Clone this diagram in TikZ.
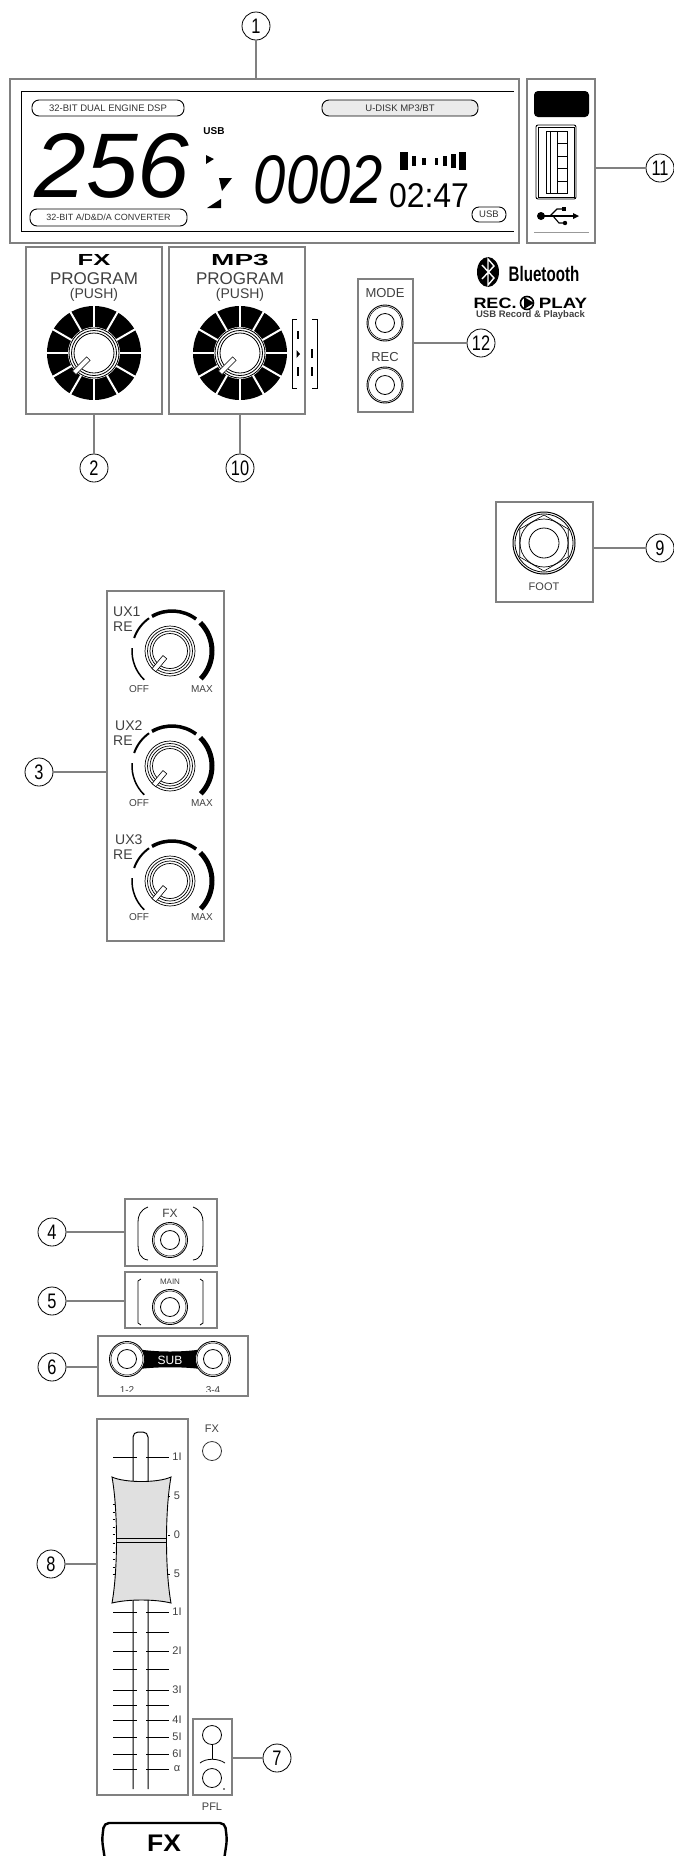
\documentclass[tikz,border=0pt]{standalone}
\usepackage{fontspec}
\setmainfont{Liberation Sans}
\usepackage{tkz-euclide}

\begin{document}
\begin{tikzpicture}[x=1pt,y=1pt,yscale=-1,
    panel/.style={draw=black!50,line width=2.6pt,inner sep=0pt},
    lead/.style={draw=black!50,line width=2pt},
    num/.style={circle,draw,line width=.8pt,minimum size=28pt,inner sep=0pt,font=\fontsize{21}{21}\selectfont},
    pill/.style={draw,line width=.9pt,rounded corners=7pt,inner sep=0pt,minimum height=16pt,text=black!80,font=\fontsize{9.5}{10}\selectfont},
    lbl/.style={inner sep=0pt,text=black!75,font=\fontsize{#1}{#1}\selectfont},
    lbl/.default=12,
    blk/.style={inner sep=0pt,text=black,font=\fontsize{#1}{#1}\selectfont\bfseries},
    tick/.style={line width=.9pt}]
    \useasboundingbox (0,0) rectangle (674,1856);
    \foreach \n/\x/\y in {1/256/26,2/94/468,3/39/772,4/52/1232,5/52/1301,6/52/1367,7/277/1758,8/51/1564,9/660/548,10/240/468,11/660/168,12/481/343}{
        \node[num] (num\n) at (\x,\y) {\scalebox{.78}[1]{\n}};
    }
    % panels
    \node[panel,minimum width=509pt,minimum height=164pt] (lcd) at (264.5,161) {};
    \node[panel,minimum width=68pt,minimum height=164pt] (usbbox) at (561,161) {};
    \node[panel,minimum width=136pt,minimum height=167pt] (fxbox) at (94,330.5) {};
    \node[panel,minimum width=136pt,minimum height=167pt] (mp3box) at (237,330.5) {};
    \node[panel,minimum width=55pt,minimum height=133pt] (modebox) at (385.5,345.5) {};
    \node[panel,minimum width=97pt,minimum height=100pt] (footbox) at (544.5,552) {};
    \node[panel,minimum width=117pt,minimum height=350pt] (uxbox) at (165.5,766) {};
    \node[panel,minimum width=92pt,minimum height=67pt] (sendbox) at (171,1232.5) {};
    \node[panel,minimum width=92pt,minimum height=56pt] (mainbox) at (171,1300) {};
    \node[panel,minimum width=150pt,minimum height=60pt] (subbox) at (173,1366) {};
    \node[panel,minimum width=91pt,minimum height=376pt] (faderbox) at (142.5,1607) {};
    \node[panel,minimum width=39pt,minimum height=76pt] (pflbox) at (212.5,1757) {};
    % leaders
    \draw[lead] (num1) -- (num1 |- lcd.north);
    \draw[lead] (num2) -- (num2 |- fxbox.south);
    \draw[lead] (num10) -- (num10 |- mp3box.south);
    \draw[lead] (num11) -- (num11 -| usbbox.east);
    \draw[lead] (num12) -- (num12 -| modebox.east);
    \draw[lead] (num9) -- (num9 -| footbox.east);
    \draw[lead] (num3) -- (num3 -| uxbox.west);
    \draw[lead] (num4) -- (num4 -| sendbox.west);
    \draw[lead] (num5) -- (num5 -| mainbox.west);
    \draw[lead] (num6) -- (num6 -| subbox.west);
    \draw[lead] (num8) -- (num8 -| faderbox.west);
    \draw[lead] (num7) -- (num7 -| pflbox.east);
    % display
    \draw[line width=1pt] (514,91) -- (21.5,91) -- (21.5,231) -- (514,231);
    \node[pill,minimum width=152pt] (dsp) at (108,108) {32-BIT DUAL ENGINE DSP};
    \node[pill,minimum width=156pt,fill=black!8] (udisk) at (400,108) {U-DISK MP3/BT};
    \node[pill,minimum width=157pt,minimum height=17pt,font=\fontsize{9}{10}\selectfont] (conv) at (108.5,217.5) {32-BIT A/D\&D/A CONVERTER};
    \node[pill,minimum width=34pt,minimum height=15pt] (usbpill) at (489,214.5) {USB};
    \node[blk=10] (usbtop) at (214,131) {USB};
    \node[inner sep=0pt] (big) at (112,166) {\resizebox{155pt}{64pt}{\itshape 256}};
    \node[inner sep=0pt] (count) at (318.5,180) {\resizebox{129pt}{48pt}{\itshape 0002}};
    \node[inner sep=0pt] (clock) at (429,195.5) {\resizebox{80pt}{24pt}{02:47}};
    \fill (206,155) -- (214,159) -- (206,164) -- cycle;
    \fill (219,178) -- (232,178) -- (222,191) -- cycle;
    \fill (221,199) -- (221,208) -- (207,208) -- cycle;
    \foreach \a/\b/\h in {400/408/9,412/416/5,422/426/3.5,435/438/3.5,443/447/5,451/456/7,459/466/9}{
        \fill (\a,161-\h) rectangle (\b,161+\h);
    }
    % usb port
    \fill[rounded corners=4pt] (534,117) -- (534,91) -- (589,91) -- (589,117) -- cycle;
    \draw[line width=.9pt,rounded corners=2pt] (536,125) rectangle (576,199);
    \draw[line width=.6pt] (538,127) rectangle (574,197);
    \draw[line width=.9pt] (546,131) rectangle (567,193);
    \draw[line width=.7pt] (550,131) -- (550,193) (557,131) -- (557,193);
    \foreach \y in {143,156,168,181}{
        \draw[line width=.7pt] (557,\y) -- (567,\y);
    }
    \fill (541,216) circle (4);
    \draw[line width=1.1pt] (541,216) -- (574,216);
    \fill (573,213) -- (579,216) -- (573,219) -- cycle;
    \draw[line width=1.1pt] (550,216) -- (557,209) -- (562,209);
    \fill (562,206.5) rectangle (566,211);
    \draw[line width=1.1pt] (553,216) -- (559,223) -- (564,223);
    \fill (565,223) circle (2.2);
    \draw[black!40,line width=1pt] (534,232) -- (589,232);
    % program knobs
    \foreach \nm/\x in {fxknob/94,mpknob/240}{
        \tkzDefPoint(\x,353){\nm}
        \fill (\nm) circle (47);
        \fill[white] (\nm) circle (26);
        \foreach \a in {0,30,...,330}{
            \draw[white,line width=2pt] (\nm) ++(\a:25) -- ++(\a:23);
        }
        \foreach \r in {25,22.5,20}{
            \draw[line width=.8pt] (\nm) circle (\r);
        }
        \draw[fill=white,line width=.6pt,shift={(\nm)},rotate=135] (8,-2.5) rectangle (28,2.5);
    }
    \node[lbl=16,text=black] (fxname) at (94,260) {\scalebox{1.6}[1]{\bfseries FX}};
    \node[lbl=16,text=black] (mpname) at (240,260) {\scalebox{1.75}[1]{\bfseries MP3}};
    \node[lbl=17] (fxprog) at (94,279) {PROGRAM};
    \node[lbl=17] (mpprog) at (240,279) {PROGRAM};
    \node[lbl=14] (fxpush) at (94,295) {(PUSH)};
    \node[lbl=14] (mppush) at (240,295) {(PUSH)};
    \draw[line width=.8pt] (297,319) -- (292,319) -- (292,388) -- (297,388);
    \draw[line width=.8pt] (312,319) -- (317,319) -- (317,388) -- (312,388);
    \draw[line width=1.2pt] (298,331) -- (298,339) (312,349) -- (312,358) (312,367) -- (312,376) (298,367) -- (298,376);
    \fill (296.5,350) -- (300,354) -- (296.5,358) -- cycle;
    % mode and rec
    \node[lbl=13] (mode) at (385,293) {MODE};
    \node[lbl=13] (rec) at (385,357) {REC};
    \foreach \nm/\y in {modejack/323,recjack/385}{
        \tkzDefPoint(385,\y){\nm}
        \draw[line width=.9pt] (\nm) circle (18);
        \draw[line width=.5pt] (\nm) circle (16.5);
        \draw[line width=.8pt] (\nm) circle (9.5);
    }
    % logos
    \fill (488,272) ellipse (11 and 15);
    \draw[white,line width=1.4pt] (482,265) -- (494,278) -- (488,285) -- (488,259) -- (494,266) -- (482,279);
    \node[blk=21] (bt) at (544,274) {\scalebox{.72}[1]{Bluetooth}};
    \node[blk=15] (recword) at (495,303) {\scalebox{1.2}[1]{REC.}};
    \draw[line width=1.6pt] (527,303) circle (6.5);
    \fill (524,297) -- (534,303) -- (524,309) -- cycle;
    \node[blk=15] (playword) at (563,303) {\scalebox{1.25}[1]{PLAY}};
    \node[blk=9.5,text=black!75] (usbrec) at (530.5,315) {USB Record \& Playback};
    % foot jack
    \tkzDefPoint(544,543){footjack}
    \draw[line width=1pt] (footjack) circle (31);
    \draw[line width=.8pt] (footjack) circle (29);
    \draw[line width=.7pt] (footjack) circle (24);
    \draw[line width=.6pt] ($(footjack)+(30:28)$) \foreach \a in {90,150,210,270,330}{-- ($(footjack)+(\a:28)$)} -- cycle;
    \draw[line width=.8pt] (footjack) circle (15);
    \node[lbl=11] (foot) at (544,587) {FOOT};
    % aux knobs
    \foreach \i/\y/\xl/\yt/\yo in {1/651/113/612/689,2/766/115/726/803,3/881/115/840/917}{
        \tkzDefPoint(170,\y){ux\i}
        \foreach \s/\e/\w in {-226/-176/1.5,-161/-125/2,-120/-53/3.5,-45/44/5}{
            \draw[line width=\w pt] (172,\y) ++(\s:40) arc (\s:\e:40);
        }
        \foreach \r in {25,22.5,20,17.5}{
            \draw[line width=.7pt] (ux\i) circle (\r);
        }
        \draw[fill=white,line width=.6pt,shift={(ux\i)},rotate=130] (8,-2.5) rectangle (25,2.5);
        \node[lbl=14,anchor=west] (uxname\i) at (\xl,\yt) {UX\i};
        \node[lbl=14,anchor=west] (re\i) at (113,\yt+15) {RE};
        \node[lbl=10] (off\i) at (139,\yo) {OFF};
        \node[lbl=10] (max\i) at (202,\yo) {MAX};
    }
    % sends
    \node[lbl=12] (sendname) at (170,1213) {FX};
    \node[lbl=8] (mainname) at (170,1282) {MAIN};
    \draw[line width=.8pt] (148,1207) .. controls (140,1210) and (138,1216) .. (138,1222) -- (138,1245) .. controls (138,1252) and (140,1259) .. (148,1260);
    \draw[line width=.8pt] (193,1207) .. controls (201,1210) and (203,1216) .. (203,1222) -- (203,1245) .. controls (203,1252) and (201,1259) .. (193,1260);
    \draw[line width=.8pt] (141,1279) -- (138,1281) -- (138,1323) -- (141,1325);
    \draw[line width=.8pt] (200,1279) -- (203,1281) -- (203,1323) -- (200,1325);
    \fill (127,1347) .. controls (150,1353) and (190,1353) .. (213,1347) -- (213,1371) .. controls (190,1366) and (150,1366) .. (127,1371) -- cycle;
    \foreach \nm/\x/\y in {sendjack/170/1240,mainjack/170/1307,subl/127/1359,subr/213/1359}{
        \tkzDefPoint(\x,\y){\nm}
        \draw[fill=white,line width=.9pt] (\nm) circle (17.5);
        \draw[line width=.5pt] (\nm) circle (16);
        \draw[line width=.8pt] (\nm) circle (9.5);
    }
    \node[lbl=12,text=white] (subname) at (170,1360) {SUB};
    \begin{scope}
        \clip (100,1380) rectangle (246,1391);
        \node[lbl=10] (subone) at (127,1390) {1-2};
        \node[lbl=10] (subtwo) at (213,1390) {3-4};
    \end{scope}
    % fader
    \draw[line width=1pt,rounded corners=5pt] (133,1789) -- (133,1432) -- (148,1432) -- (148,1789);
    \foreach \y in {1457,1612,1632,1651,1669,1690,1705,1720,1737,1754,1769}{
        \draw[tick] (113,\y) -- (137,\y) (146,\y) -- (169,\y);
    }
    \draw[fill=black!12,line width=.9pt] (112,1477) .. controls (125,1483) and (158,1483) .. (171,1477) .. controls (165,1510) and (165,1570) .. (171,1603) .. controls (155,1599) and (128,1599) .. (112,1603) .. controls (118,1570) and (118,1510) .. (112,1477) -- cycle;
    \draw[line width=.9pt] (117,1538) -- (166,1538) (117,1542) -- (166,1542);
    \foreach \y in {1504,1512,1519,1527,1534,1543,1552,1559,1567,1574}{
        \draw[line width=.6pt] (112.5,\y) -- (115,\y);
    }
    \foreach \y in {1496,1535,1574}{
        \draw[line width=.6pt] (168,\y) -- (170,\y);
    }
    \foreach \nm/\t/\y in {a/1I/1457,b/5/1496,c/0/1535,d/5/1574,e/1I/1612,f/2I/1651,g/3I/1690,h/4I/1720,i/5I/1737,j/6I/1754,k/α/1769}{
        \node[lbl=11] (scale\nm) at (177,\y) {\t};
    }
    \node[lbl=11] (ledname) at (212,1429) {FX};
    \tkzDefPoint(212,1451){led}
    \draw[line width=.8pt,black!80] (led) circle (9.5);
    % pfl switch
    \tkzDefPoint(212,1735){pflup}
    \tkzDefPoint(212,1778){pfldown}
    \draw[line width=.8pt] (pflup) circle (9.5);
    \draw[line width=.8pt] (pfldown) circle (9.5);
    \draw[line width=.8pt] (212,1745) -- (212,1759);
    \draw[line width=.8pt] (200,1763) .. controls (206,1758) and (218,1758) .. (225,1763);
    \fill (224,1789) circle (.9);
    \node[lbl=11] (pfl) at (212,1807) {PFL};
    % channel name
    \draw[line width=2.4pt,rounded corners=5pt] (105,1860) -- (102,1840) -- (104,1823) -- (225,1823) -- (227,1840) -- (224,1860);
    \node[blk=24] (chname) at (164,1843) {\scalebox{1.1}[1]{FX}};
\end{tikzpicture}
\end{document}
